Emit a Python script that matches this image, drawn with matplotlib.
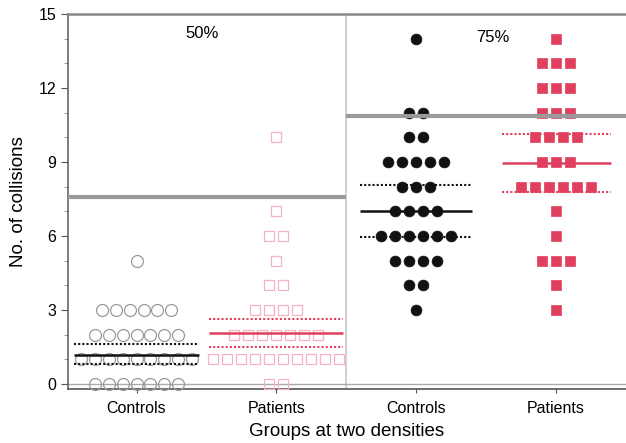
import numpy as np
import matplotlib.pyplot as plt

plt.rcParams['font.family'] = ['Liberation Sans', 'DejaVu Sans']

# counts of subjects at each collision value, per group
values_c50 = [0, 1, 2, 3, 5]
counts_c50 = [7, 9, 7, 6, 1]
values_p50 = [0, 1, 2, 3, 4, 5, 6, 7, 10]
counts_p50 = [2, 10, 7, 4, 2, 1, 2, 1, 1]
values_c75 = [3, 4, 5, 6, 7, 8, 9, 10, 11, 14]
counts_c75 = [1, 2, 4, 6, 4, 3, 5, 2, 2, 1]
values_p75 = [3, 4, 5, 6, 7, 8, 9, 10, 11, 12, 13, 14]
counts_p75 = [1, 1, 3, 1, 1, 6, 3, 4, 3, 3, 3, 1]

# summary lines: (centre, lower, upper)
summary_c50 = (1.18, 0.8, 1.61)
summary_p50 = (2.05, 1.5, 2.63)
summary_c75 = (7.0, 5.95, 8.05)
summary_p75 = (8.95, 7.8, 10.13)

# thick grey reference lines for each density
ref_50 = 7.58
ref_75 = 10.85

group_labels = ['Controls', 'Patients', 'Controls', 'Patients']
density_labels = ['50%', '75%']

RED = '#e0405e'
PINK = '#f5b3c1'
GREY = '#9a9a9a'
STEP = 0.1


def swarm(values, counts):
    xs, ys = [], []
    for v, n in zip(values, counts):
        for i in range(n):
            xs.append((i - (n - 1) / 2) * STEP)
            ys.append(v)
    return np.array(xs), np.array(ys)


fig = plt.figure(figsize=(6.26, 4.43), dpi=100)
ax = fig.add_axes([0.1086, 0.1219, 0.8914, 0.8465])

groups = [
    (0, values_c50, counts_c50, dict(marker='o', ms=8.6, mfc='none', mec=GREY, mew=0.9)),
    (1, values_p50, counts_p50, dict(marker='s', ms=7.0, mfc='none', mec=PINK, mew=0.9)),
    (2, values_c75, counts_c75, dict(marker='o', ms=7.8, mfc='#111111', mec='#111111', mew=0.5)),
    (3, values_p75, counts_p75, dict(marker='s', ms=7.2, mfc=RED, mec=RED, mew=0.5)),
]
for pos, vals, cnts, style in groups:
    xs, ys = swarm(vals, cnts)
    ax.plot(xs + pos, ys, ls='none', zorder=3, clip_on=False, **style)

summaries = [
    (0, summary_c50, '#111111', 0.45),
    (1, summary_p50, RED, 0.48),
    (2, summary_c75, '#111111', 0.4),
    (3, summary_p75, RED, 0.39),
]
for pos, (mid, lo, hi), col, half in summaries:
    ax.hlines(mid, pos - half, pos + half, color=col, lw=1.8, zorder=4)
    ax.hlines([lo, hi], pos - half, pos + half, color=col, lw=1.5,
              linestyles=(0, (1, 1)), zorder=4)

ax.hlines(ref_50, -0.49, 1.5, color=GREY, lw=3, zorder=5)
ax.hlines(ref_75, 1.5, 3.5, color=GREY, lw=3, zorder=5)
ax.axvline(1.5, color='#c8c8c8', lw=1.2, zorder=1)
ax.axhline(0, color='#aaaaaa', lw=1, zorder=1)

ax.text(0.47, 14.2, density_labels[0], fontsize=12, ha='center', va='center')
ax.text(2.55, 14.05, density_labels[1], fontsize=12, ha='center', va='center')

ax.set_xlim(-0.49, 3.5)
ax.set_ylim(-0.2, 15)
ax.set_xticks(range(4))
ax.set_xticklabels(group_labels, fontsize=11.5)
ax.set_yticks(range(0, 16, 3))
ax.set_yticks(range(0, 16), minor=True)
ax.tick_params(axis='y', labelsize=11.5, color='#555555', length=5)
ax.tick_params(axis='y', which='minor', length=3, color='#888888')
ax.tick_params(axis='x', length=3, color='#555555', pad=6)
ax.set_ylabel('No. of collisions', fontsize=13.5, labelpad=8)
ax.set_xlabel('Groups at two densities', fontsize=13.5, labelpad=5)

ax.spines['right'].set_visible(False)
ax.spines['top'].set_color('#888888')
ax.spines['top'].set_linewidth(1.8)
ax.spines['left'].set_color('#666666')
ax.spines['left'].set_linewidth(1.2)
ax.spines['bottom'].set_color('#555555')
ax.spines['bottom'].set_linewidth(1.2)

fig.savefig('out.png', dpi=100)
